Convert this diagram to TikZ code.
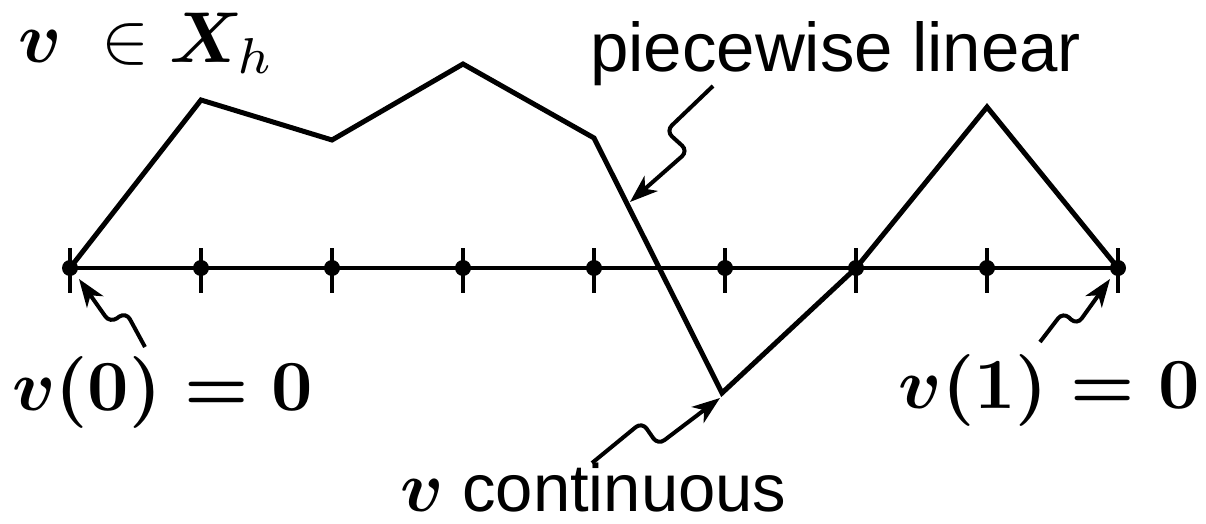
\documentclass[tikz,border=0pt]{standalone}
\usepackage{bm}
\usepackage{graphicx}
\usepackage[no-math]{fontspec}
\newfontfamily\hv{Liberation Sans}
\usetikzlibrary{arrows.meta}
\newcommand{\bigmath}[1]{\scalebox{7.2}{\fontsize{10}{12}\selectfont #1}}
\tikzset{
  curve/.style={line width=5pt, line join=miter},
  axisline/.style={line width=4pt},
  tick/.style={line width=3.5pt},
  dot/.style={circle, fill=black, inner sep=0pt, minimum size=16pt},
  pointer/.style={line width=4pt, rounded corners=8pt, -{Stealth[length=28pt,width=20pt,inset=8pt]}},
  lbl/.style={inner sep=0pt},
  slbl/.style={inner sep=0pt, font=\hv\fontsize{69}{82}\selectfont}
}
\begin{document}
\begin{tikzpicture}[x=1pt, y=-1pt]
\useasboundingbox (0,0) rectangle (1206,524);
% axis nodes
\foreach \i/\x in {0/70,1/201,2/332,3/463,4/594,5/725,6/856,7/987,8/1118}{
  \coordinate (t\i) at (\x,268);
  \draw[tick] (\x,248) -- (\x,293);
}
\draw[axisline] (t0) -- (t8);
\foreach \i in {0,...,8}{ \node[dot] (d\i) at (t\i) {}; }
% polyline vertices
\coordinate (p1) at (201,100);
\coordinate (p2) at (332,140);
\coordinate (p3) at (463,64);
\coordinate (p4) at (594,138);
\coordinate (p5) at (722,393);
\coordinate (p7) at (987,107);
\draw[curve] (t0) -- (p1) -- (p2) -- (p3) -- (p4) -- (p5) -- (t6) -- (p7) -- (t8);
% labels
\node[lbl, anchor=base west] (lX) at (18,63) {\bigmath{$\bm{v}\;\in\bm{X}_h$}};
\node[slbl, anchor=base west] (lpw) at (590,72) {piecewise linear};
\node[lbl, anchor=base west] (lcont) at (400,511) {\bigmath{$\bm{v}$}\hv\fontsize{67}{80}\selectfont\ continuous};
\node[lbl, anchor=base west] (l0) at (12,410) {\bigmath{\boldmath$v(0)=0$}};
\node[lbl, anchor=base east] (l1) at (1200,408) {\bigmath{\boldmath$v(1)=0$}};
% pointer arrows
\coordinate (a1) at (713,86);
\coordinate (a2) at (630,202);
\draw[pointer] (a1) -- (666,131) -- (688,151) -- (a2);
\coordinate (b1) at (145,347);
\coordinate (b2) at (79,279);
\draw[pointer] (b1) -- (126,312) -- (110,323) -- (b2);
\coordinate (c1) at (1040,342);
\coordinate (c2) at (1110,279);
\draw[pointer] (c1) -- (1063,312) -- (1077,325) -- (c2);
\coordinate (e1) at (592,463);
\coordinate (e2) at (720,398);
\draw[pointer] (e1) -- (642,422) -- (658,445) -- (e2);
\end{tikzpicture}
\end{document}
